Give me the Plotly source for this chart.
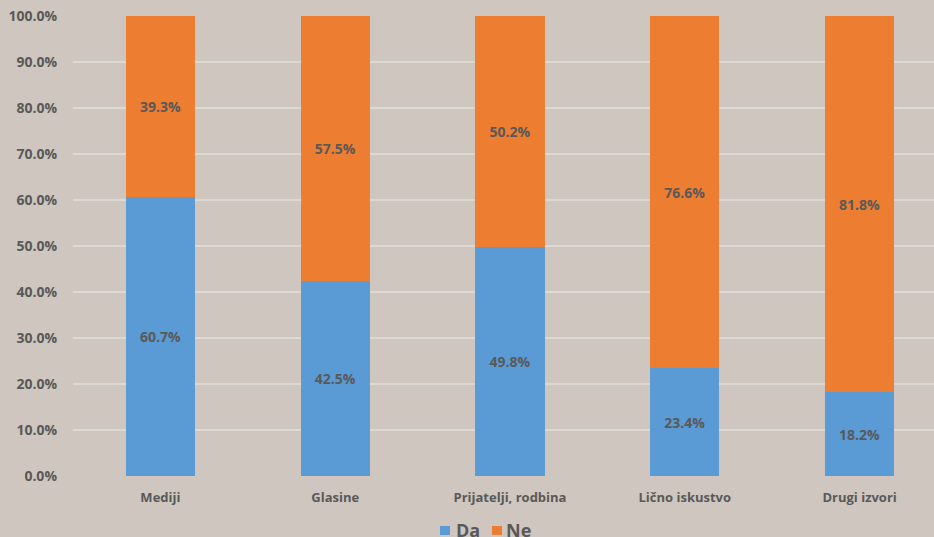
import plotly.graph_objects as go

categories = ["Mediji", "Glasine", "Prijatelji, rodbina", "Lično iskustvo", "Drugi izvori"]
da_values = [60.7, 42.5, 49.8, 23.4, 18.2]
ne_values = [39.3, 57.5, 50.2, 76.6, 81.8]
series_names = ["Da", "Ne"]
series_colors = ["#5b9bd5", "#ed7d31"]
y_ticks = [0, 10, 20, 30, 40, 50, 60, 70, 80, 90, 100]
y_tick_labels = [f"{v:.1f}%" for v in y_ticks]

TEXT = "#595959"
BG = "#cec6bf"
FONT = "Open Sans"

# plot area geometry (pixels)
W, H = 934, 537
ML, MR, MT, MB = 73, 0, 16, 61
PW = W - ML - MR
PH = H - MT - MB


def px_x(px):
    return (px - ML) / PW


def px_y(py):
    return (H - MB - py) / PH


fig = go.Figure()
for name, vals, col in zip(series_names, [da_values, ne_values], series_colors):
    fig.add_trace(go.Bar(
        name=name, x=categories, y=vals, marker_color=col,
        marker_line_width=0, width=0.395, showlegend=False,
        text=[f"{v:.1f}%" for v in vals], textposition="inside",
        insidetextanchor="middle", textangle=0,
        textfont=dict(family=FONT, size=14, color=TEXT, weight=700),
    ))

# legend drawn as swatches + text, laid out like the original
legend_items = [(440, 454), (492, 504)]
for (sx, tx), name, col in zip(legend_items, series_names, series_colors):
    fig.add_shape(type="rect", xref="paper", yref="paper",
                  x0=px_x(sx), x1=px_x(sx + 10), y0=px_y(535), y1=px_y(526),
                  fillcolor=col, line_width=0, layer="above")
    fig.add_annotation(text=name, xref="paper", yref="paper",
                       x=px_x(tx), y=px_y(516), xanchor="left", yanchor="top",
                       showarrow=False,
                       font=dict(family=FONT, size=18, color=TEXT, weight=700))

fig.update_layout(
    barmode="stack",
    width=W, height=H,
    margin=dict(l=ML, r=MR, t=MT, b=MB),
    paper_bgcolor=BG, plot_bgcolor=BG,
    font=dict(family=FONT, size=13, color=TEXT, weight=700),
    showlegend=False,
    xaxis=dict(
        range=[-0.5, 4.4257], showgrid=False, zeroline=False,
        showline=False, ticks="", tickfont=dict(size=13, color=TEXT),
        ticklabelstandoff=12, fixedrange=True,
    ),
    yaxis=dict(
        range=[0, 100], tickvals=y_ticks, ticktext=y_tick_labels,
        showgrid=True, gridcolor="#dcd8d4", gridwidth=1.5,
        zeroline=False, showline=False, ticks="",
        tickfont=dict(size=14, color=TEXT), ticklabelstandoff=15,
        fixedrange=True,
    ),
)

html = fig.to_html(include_plotlyjs=True, full_html=True,
                   config={"displayModeBar": False})
html = html.replace(
    "<head>",
    "<head><style>html,body{margin:0;padding:0;overflow:hidden;background:%s}</style>" % BG,
    1,
)
with open("out.html", "w", encoding="utf-8") as f:
    f.write(html)
